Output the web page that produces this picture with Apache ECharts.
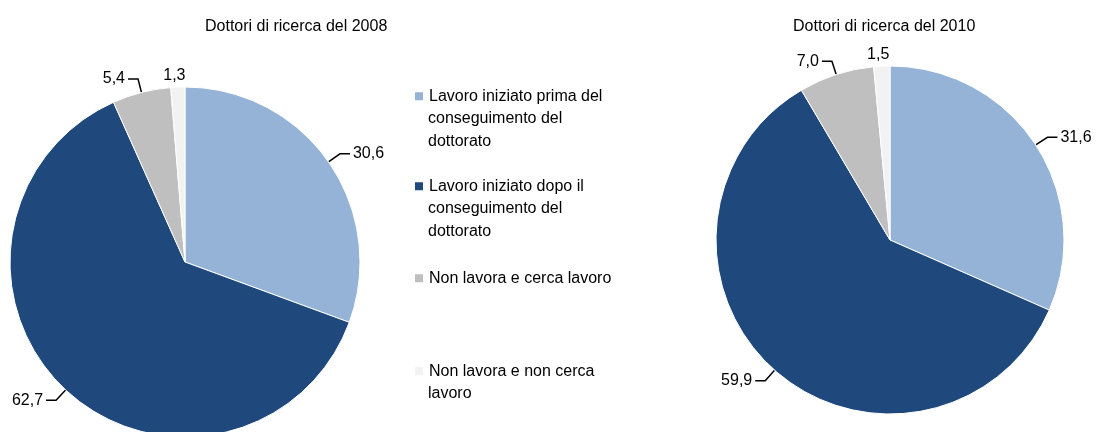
<!DOCTYPE html>
<html>
<head>
<meta charset="utf-8">
<script src="https://cdn.jsdelivr.net/npm/echarts@6/dist/echarts.min.js"></script>
<style>
  html, body { margin: 0; padding: 0; background: #fff; }
  #chart { width: 1103px; height: 432px; }
</style>
</head>
<body>
<div id="chart"></div>
<script>
var categories = [
    'Lavoro iniziato prima del conseguimento del dottorato',
    'Lavoro iniziato dopo il conseguimento del dottorato',
    'Non lavora e cerca lavoro',
    'Non lavora e non cerca lavoro'
];
// testo della legenda: prima riga + righe successive
var legendFirst = [
    'Lavoro iniziato prima del',
    'Lavoro iniziato dopo il',
    'Non lavora e cerca lavoro',
    'Non lavora e non cerca'
];
var legendRest = [
    'conseguimento del\ndottorato',
    'conseguimento del\ndottorato',
    '',
    'lavoro'
];
var values2008 = [30.6, 62.7, 5.4, 1.3];
var values2010 = [31.6, 59.9, 7.0, 1.5];
var colors = ['#95b3d7', '#1f497d', '#bfbfbf', '#f2f2f2'];

var FONT = "'Liberation Sans', Arial, sans-serif";
var LH = 22.5;

function buildData(vals) {
    return categories.map(function (c, i) {
        var d = { name: c, value: vals[i], itemStyle: { color: colors[i] } };
        if (i === 3) {
            // etichetta piccola sopra la fetta, senza linea
            d.labelLine = { show: false, length: 12, length2: 0 };
        }
        return d;
    });
}

function fmt(p) {
    return p.value.toFixed(1).replace('.', ',');
}

var legendTops = [85, 175, 267, 360];
var legends = [];
var restTexts = [];
categories.forEach(function (c, i) {
    legends.push({
        orient: 'vertical',
        left: 413,
        top: legendTops[i],
        padding: 0,
        data: [c],
        icon: 'rect',
        itemWidth: 10,
        itemHeight: 10,
        selectedMode: false,
        formatter: function () { return legendFirst[i]; },
        textStyle: { fontFamily: FONT, fontSize: 16, color: '#000', lineHeight: LH }
    });
    if (legendRest[i]) {
        // righe successive della voce di legenda
        restTexts.push({
            type: 'text',
            x: 428,
            y: legendTops[i] + LH,
            silent: true,
            style: {
                text: legendRest[i],
                fontFamily: FONT,
                fontSize: 16,
                lineHeight: LH,
                align: 'left',
                verticalAlign: 'top',
                fill: '#000'
            }
        });
    }
});

function pieSeries(vals, center, radius) {
    return {
        type: 'pie',
        center: center,
        radius: radius,
        startAngle: 90,
        clockwise: true,
        animation: false,
        avoidLabelOverlap: false,
        data: buildData(vals),
        itemStyle: { borderColor: '#fff', borderWidth: 1 },
        label: {
            show: true,
            position: 'outside',
            formatter: fmt,
            fontFamily: FONT,
            fontSize: 16,
            color: '#000',
            overflow: 'none',
            distanceToLabelLine: 3
        },
        labelLine: {
            show: true,
            length: 14,
            length2: 10,
            lineStyle: { color: '#000', width: 1.5 }
        },
        labelLayout: function (params) {
            if (params.dataIndex === 3) {
                return { align: 'center' };
            }
        },
        emphasis: { disabled: true }
    };
}

var chart = echarts.init(document.getElementById('chart'), null, { renderer: 'canvas' });
chart.setOption({
    backgroundColor: '#fff',
    title: [
        {
            text: 'Dottori di ricerca del 2008',
            left: 205,
            top: 19,
            padding: 0,
            textStyle: { fontFamily: FONT, fontSize: 16, fontWeight: 'normal', color: '#000' }
        },
        {
            text: 'Dottori di ricerca del 2010',
            left: 793,
            top: 19,
            padding: 0,
            textStyle: { fontFamily: FONT, fontSize: 16, fontWeight: 'normal', color: '#000' }
        }
    ],
    legend: legends,
    graphic: restTexts,
    series: [
        pieSeries(values2008, [185, 262], 175),
        pieSeries(values2010, [890, 240], 174)
    ]
});
</script>
</body>
</html>
